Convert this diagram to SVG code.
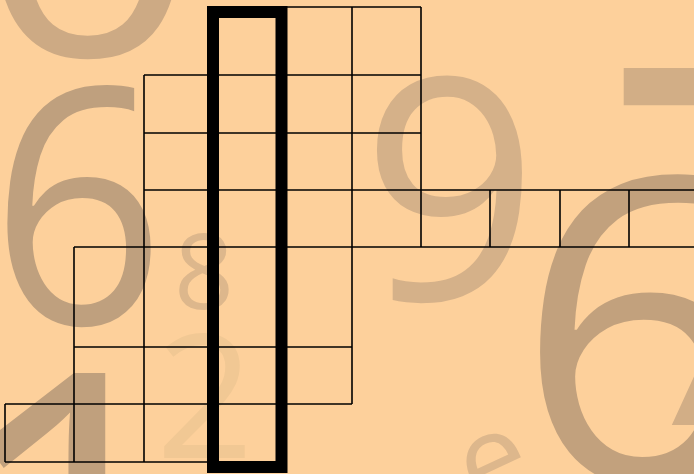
<svg xmlns="http://www.w3.org/2000/svg" width="694" height="474" viewBox="0 0 694 474">
<style>
.bg{fill:#FDD09B}
.dg{font-family:"Open Sans","DejaVu Sans",sans-serif;font-weight:400}
.grid{fill:none;stroke:#000;stroke-width:1.6}
.thick{fill:none;stroke:#000;stroke-width:12}
</style>
<rect class="bg" x="0" y="0" width="694" height="474"/>
<g id="background-digits" class="dg">
<text x="0" y="0" font-size="340" text-anchor="middle" fill="#CDAA84" transform="translate(88 56) scale(1.15 1)">0</text>
<text x="0" y="0" font-size="330" fill="#BFA07E" transform="translate(-10 324) scale(0.93 1)">6</text>
<text x="450" y="300" font-size="310" text-anchor="middle" fill="#D5B189">9</text>
<text x="601" y="425" font-size="500" fill="#D2AE86">7</text>
<text x="516" y="482" font-size="425" fill="#C2A17D">6</text>
<text x="-58" y="705" font-size="465" fill="#C0A07D">1</text>
<text x="204" y="309" font-size="105" text-anchor="middle" fill="#DDB78C">8</text>
<text x="205" y="458" font-size="172" text-anchor="middle" fill="#F1C894">2</text>
<text x="492" y="500" font-size="120" text-anchor="middle" fill="#DDB78C" transform="rotate(-25 492 460)">e</text>
</g>
<g id="connectors">
<path class="grid" d="M287 7H421 M144 75H421 M144 133H421 M144 190H694 M74 247H694 M74 347H352 M5 404H352 M5 462H213 M5 404V462 M74 247V462 M144 75V462 M352 7V404 M421 7V247 M490 190V247 M560 190V247 M629 190V247"/>
</g>
<g id="highlight-column">
<rect class="thick" x="213" y="12" width="68.5" height="455"/>
</g>
</svg>
